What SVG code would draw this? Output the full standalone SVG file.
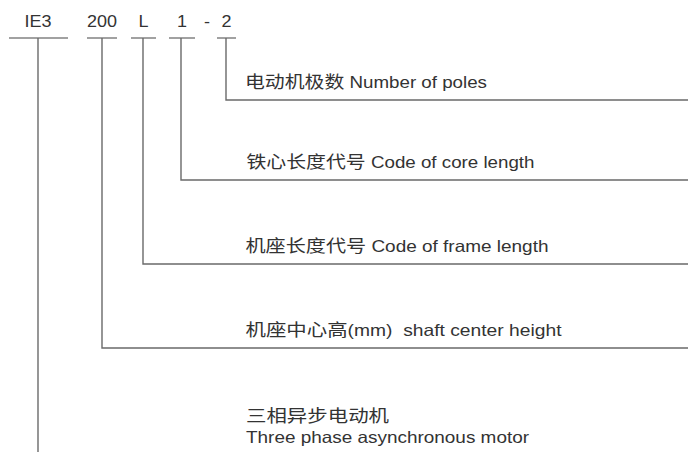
<svg xmlns="http://www.w3.org/2000/svg" width="688" height="452" viewBox="0 0 688 452">
<style>
.t{font-family:"Liberation Sans",Arial,"Noto Sans CJK SC",sans-serif;font-size:16.5px;fill:#333}
.k{font-family:"Noto Sans CJK SC","Liberation Sans",sans-serif;font-size:17.5px}
.c{text-anchor:middle}
.ln{stroke:#6a6a6a;stroke-width:1.4;fill:none}
.tp{stroke:#444;stroke-width:1.2;fill:none}
</style>
<rect width="688" height="452" fill="#fff"/>
<g id="connectors">
<path class="tp" d="M9 38H68M87 38H117M131 38H156M169 38H195M217 38H236"/>
<path class="ln" d="M226 38V100H688"/>
<path class="ln" d="M181 38V180H688"/>
<path class="ln" d="M143 38V264H688"/>
<path class="ln" d="M102 38V348H688"/>
<path class="ln" d="M38 38V452"/>
</g>
<g id="code">
<text class="t c" x="38" y="27" textLength="27" lengthAdjust="spacingAndGlyphs">IE3</text>
<text class="t c" x="102" y="27" textLength="30" lengthAdjust="spacingAndGlyphs">200</text>
<text class="t c" x="143.5" y="27" textLength="10" lengthAdjust="spacingAndGlyphs">L</text>
<text class="t c" x="182" y="27" textLength="10" lengthAdjust="spacingAndGlyphs">1</text>
<text class="t c" x="207" y="27" textLength="6" lengthAdjust="spacingAndGlyphs">-</text>
<text class="t c" x="226.5" y="27" textLength="10" lengthAdjust="spacingAndGlyphs">2</text>
</g>
<g id="poles"><text class="t" x="245" y="88" textLength="242" lengthAdjust="spacingAndGlyphs"><tspan class="k">电动机极数</tspan> Number of poles</text></g>
<g id="core"><text class="t" x="246.5" y="168" textLength="288" lengthAdjust="spacingAndGlyphs"><tspan class="k">铁心长度代号</tspan> Code of core length</text></g>
<g id="frame"><text class="t" x="245.5" y="252" textLength="303" lengthAdjust="spacingAndGlyphs"><tspan class="k">机座长度代号</tspan> Code of frame length</text></g>
<g id="shaft"><text class="t" x="245.5" y="336" textLength="316" lengthAdjust="spacingAndGlyphs"><tspan class="k">机座中心高</tspan>(mm)&#160; shaft center height</text></g>
<g id="motor">
<text class="t" x="246" y="422" textLength="143" lengthAdjust="spacingAndGlyphs"><tspan class="k">三相异步电动机</tspan></text>
<text class="t" x="246" y="443" textLength="283" lengthAdjust="spacingAndGlyphs">Three phase asynchronous motor</text>
</g>
</svg>
